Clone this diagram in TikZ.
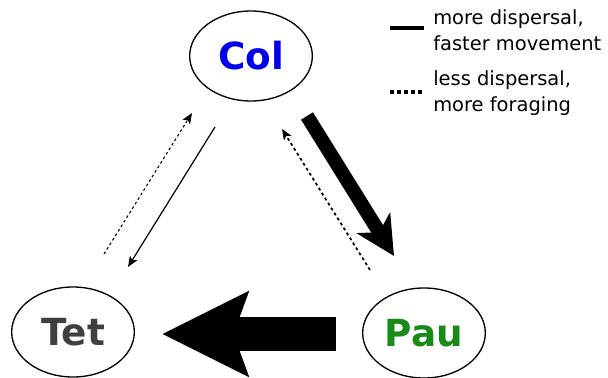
\documentclass[tikz,border=0pt]{standalone}
\usepackage{fontspec}
\setmainfont{DejaVu Sans}
\usetikzlibrary{shapes.geometric,arrows.meta}
\definecolor{colblue}{RGB}{0,0,235}
\definecolor{tetgray}{RGB}{64,64,64}
\definecolor{paugreen}{RGB}{24,138,24}
\tikzset{
  species/.style={ellipse,draw=black,line width=1pt,minimum width=92pt,minimum height=67.5pt,inner sep=0pt,font=\fontsize{28}{30}\selectfont\bfseries},
  thinarrow/.style={line width=0.9pt,-{Stealth[length=8pt,width=6.5pt,inset=2pt]}},
  dotarrow/.style={line width=0.9pt,dash pattern=on 2pt off 2pt,-{Stealth[length=8pt,width=6.5pt,inset=2pt]}},
  legendtext/.style={anchor=west,align=left,inner sep=0pt,font=\fontsize{14.6}{19.5}\selectfont}
}
\begin{document}
\begin{tikzpicture}[x=0.75pt,y=-0.75pt]
\useasboundingbox (0,0) rectangle (608,378);
\node[species,text=colblue] (col) at (251,56) {Col};
\node[species,text=tetgray] (tet) at (73,332) {Tet};
\node[species,text=paugreen] (pau) at (424,333) {Pau};
% thin arrows left
\coordinate (a1s) at (215,127);
\coordinate (a1e) at (128,267);
\coordinate (a2s) at (104,254);
\coordinate (a2e) at (192,113);
\draw[thinarrow] (a1s) -- (a1e);
\draw[dotarrow,line width=0.8pt] (a2s) -- (a2e);
% right arrows
\coordinate (a3s) at (370,270);
\coordinate (a3e) at (282,129);
\draw[dotarrow,line width=1.3pt,dash pattern=on 2.2pt off 2.2pt] (a3s) -- (a3e);
\coordinate (a4s) at (307,116);
\coordinate (a4e) at (394,256);
\draw[line width=10.5pt,-{Stealth[length=29pt,width=29pt,inset=8pt]}] (a4s) -- (a4e);
% big horizontal arrow
\coordinate (a5s) at (336,334);
\coordinate (a5e) at (162,334);
\draw[line width=26pt,-{Stealth[length=64pt,width=62pt,inset=10.5pt]}] (a5s) -- (a5e);
% legend
\coordinate (l1s) at (390,28);
\coordinate (l1e) at (424,28);
\coordinate (l2s) at (390,92);
\coordinate (l2e) at (424,92);
\draw[line width=2.4pt] (l1s) -- (l1e);
\draw[line width=2.4pt,dash pattern=on 3pt off 2.2pt] (l2s) -- (l2e);
\node[legendtext] (t1) at (433,30) {more dispersal,\\faster movement};
\node[legendtext] (t2) at (433,93) {less dispersal,\\more foraging};
\end{tikzpicture}
\end{document}
